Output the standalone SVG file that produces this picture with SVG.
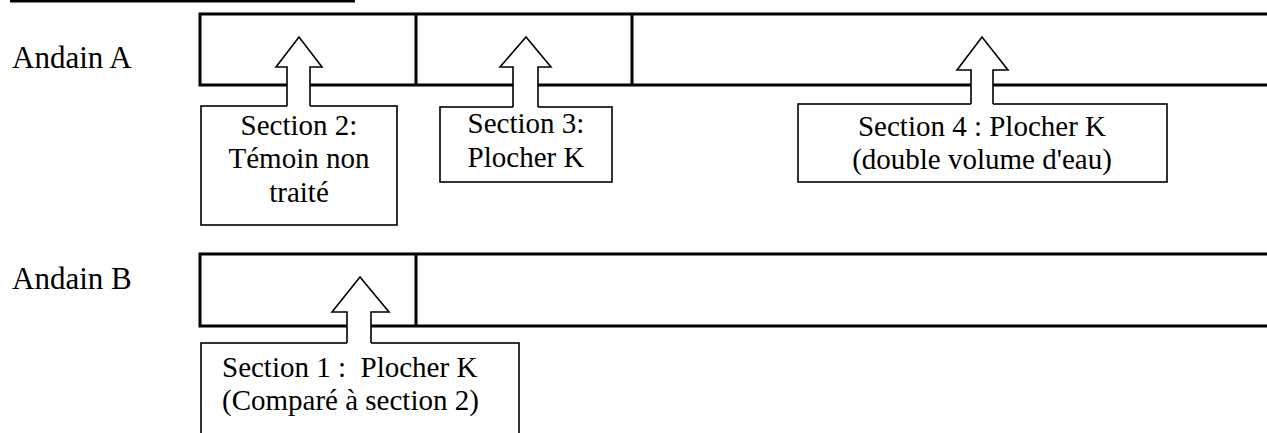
<svg xmlns="http://www.w3.org/2000/svg" width="1267" height="433" viewBox="0 0 1267 433">
  <style>
    .strip { fill: none; stroke: #000; stroke-width: 3; }
    .box { fill: #fff; stroke: #000; stroke-width: 1.6; }
    .arrow-fill { fill: #fff; stroke: none; }
    .arrow-line { fill: none; stroke: #000; stroke-width: 1.6; stroke-linejoin: miter; }
    .label { font-family: "Liberation Serif", "Times New Roman", serif; font-size: 31px; fill: #000; }
    .txt { font-family: "Liberation Serif", "Times New Roman", serif; font-size: 29px; fill: #000; }
    .mid { text-anchor: middle; }
  </style>

  <!-- heading underline -->
  <rect x="10" y="0" width="345" height="2.5" fill="#000"/>

  <!-- row labels -->
  <text class="label" x="12" y="68">Andain A</text>
  <text class="label" x="12" y="289">Andain B</text>

  <!-- windrow A strip with section dividers -->
  <g id="andain-a">
    <path class="strip" d="M1270,14 H200 V85 H1270 M416,14 V85 M632,14 V85"/>
  </g>

  <!-- windrow B strip -->
  <g id="andain-b">
    <path class="strip" d="M1270,254 H200 V326 H1270 M416,254 V326"/>
  </g>

  <!-- section label boxes -->
  <g id="section-2">
    <rect class="box" x="201" y="106" width="196" height="119"/>
    <text class="txt mid" x="299" y="135">Section 2:</text>
    <text class="txt mid" x="299" y="168">Témoin non</text>
    <text class="txt mid" x="299" y="202">traité</text>
  </g>

  <g id="section-3">
    <rect class="box" x="440" y="107" width="172" height="75"/>
    <text class="txt mid" x="526" y="133">Section 3:</text>
    <text class="txt mid" x="526" y="167">Plocher K</text>
  </g>

  <g id="section-4">
    <rect class="box" x="798" y="104" width="369" height="78"/>
    <text class="txt mid" x="982" y="136">Section 4 : Plocher K</text>
    <text class="txt mid" x="982" y="169">(double volume d'eau)</text>
  </g>

  <g id="section-1">
    <rect class="box" x="201" y="343" width="318" height="110"/>
    <text class="txt" x="222" y="377" xml:space="preserve">Section 1 :  Plocher K</text>
    <text class="txt" x="222" y="410">(Comparé à section 2)</text>
  </g>

  <!-- block arrows from each box up into its section -->
  <g id="connectors">
    <g id="arrow-2">
      <polygon class="arrow-fill" points="287,107 287,67 276,67 299,37 322,67 310,67 310,107"/>
      <polyline class="arrow-line" points="287,106 287,67 276,67 299,37 322,67 310,67 310,106"/>
    </g>
    <g id="arrow-3">
      <polygon class="arrow-fill" points="513,108 513,67 500,67 526,37 551,67 538,67 538,108"/>
      <polyline class="arrow-line" points="513,107 513,67 500,67 526,37 551,67 538,67 538,107"/>
    </g>
    <g id="arrow-4">
      <polygon class="arrow-fill" points="971,105 971,70 957,70 982,37 1008,70 993,70 993,105"/>
      <polyline class="arrow-line" points="971,104 971,70 957,70 982,37 1008,70 993,70 993,104"/>
    </g>
    <g id="arrow-1">
      <polygon class="arrow-fill" points="347,344 347,312 332,312 360,277 389,312 371,312 371,344"/>
      <polyline class="arrow-line" points="347,343 347,312 332,312 360,277 389,312 371,312 371,343"/>
    </g>
  </g>
</svg>
